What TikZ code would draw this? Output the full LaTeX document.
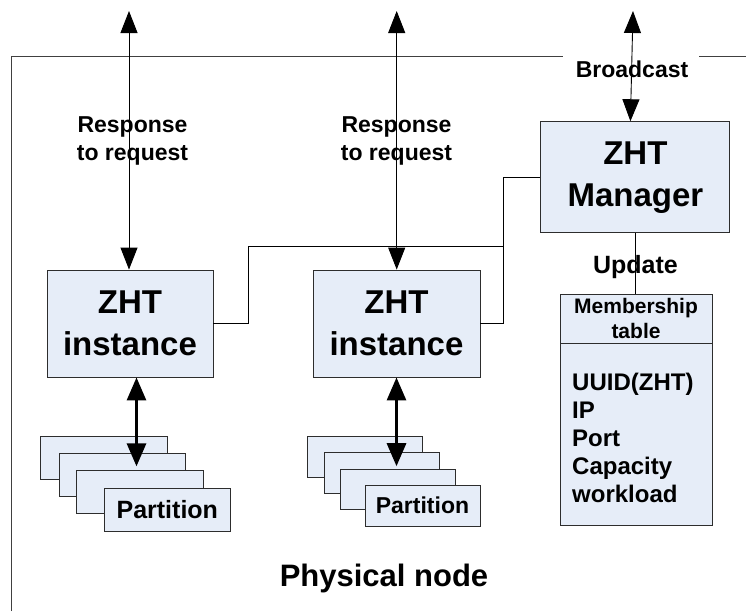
\documentclass[tikz,border=0pt]{standalone}
\usepackage{fontspec}
\setmainfont{Liberation Sans}
\usetikzlibrary{arrows.meta,calc}
\definecolor{boxfill}{RGB}{230,237,248}
\definecolor{edge}{RGB}{45,45,45}
\begin{document}
\begin{tikzpicture}[x=1pt,y=-1pt,
  box/.style={draw=edge,fill=boxfill,line width=0.9pt,inner sep=0pt,align=center,
    font=\bfseries\fontsize{33}{42}\selectfont},
  partbox/.style={draw=edge,fill=boxfill,line width=0.9pt,inner sep=0pt,
    minimum width=126.5pt,minimum height=43pt,font=\bfseries\fontsize{25}{30}\selectfont},
  partboxs/.style={draw=edge,fill=boxfill,line width=0.9pt,inner sep=0pt,
    minimum width=115pt,minimum height=40.5pt,font=\bfseries\fontsize{23}{28}\selectfont},
  lbl/.style={inner sep=0pt,align=center,font=\bfseries\fontsize{23}{28}\selectfont},
  item/.style={inner sep=0pt,anchor=base west,font=\bfseries\fontsize{24}{28}\selectfont},
  frameline/.style={draw=black!75,line width=0.9pt},
  conn/.style={draw=black,line width=0.9pt},
  thinarrow/.style={draw=black,line width=0.9pt,{Triangle[width=17pt,length=22pt]}-{Triangle[width=17pt,length=22pt]}},
  thickarrow/.style={draw=black,line width=3pt,{Triangle[width=19pt,length=23pt]}-{Triangle[width=19pt,length=23pt]}}
]
\useasboundingbox (0,0) rectangle (746,611);

% outer frame
\draw[frameline] (11.7,611) -- (11.7,56.7) -- (563,56.7);
\draw[frameline] (699,56.7) -- (746,56.7);

% main boxes
\node[box,minimum width=166pt,minimum height=107pt] (inst1) at (130,323.5) {ZHT\\instance};
\node[box,minimum width=167pt,minimum height=107pt] (inst2) at (396.5,323.5) {ZHT\\instance};
\node[box,minimum width=189pt,minimum height=111pt] (mgr) at (635.4,177.2) {ZHT\\Manager};

% membership table
\node[box,minimum width=152pt,minimum height=49.3pt,font=\bfseries\fontsize{21}{25}\selectfont] (mhead) at (636,318.6) {Membership\\table};
\node[box,minimum width=152pt,minimum height=182.4pt] (mbody) at (636,434.5) {};
\node[item] (i1) at (572,390) {UUID(ZHT)};
\node[item] (i2) at (572,418) {IP};
\node[item] (i3) at (572,446.5) {Port};
\node[item] (i4) at (572,474.5) {Capacity};
\node[item] (i5) at (572,502) {workload};

% partitions, instance 1
\node[partbox] (p11) at (104,458) {};
\node[partbox] (p12) at (122.2,475) {};
\node[partbox] (p13) at (140,492.3) {};
\node[partbox] (p14) at (167.3,509.7) {Partition};

% partitions, instance 2
\node[partboxs] (p21) at (365.2,456.7) {};
\node[partboxs] (p22) at (381.8,473) {};
\node[partboxs] (p23) at (397.8,489.2) {};
\node[partboxs] (p24) at (422.5,505.7) {Partition};

% labels
\node[lbl] (r1) at (132.5,141) {Response\\to request};
\node[lbl] (r2) at (396.5,141) {Response\\to request};
\node[lbl,font=\bfseries\fontsize{23}{28}\selectfont] (bc) at (632,69.5) {Broadcast};
\node[lbl,font=\bfseries\fontsize{25}{30}\selectfont] (upd) at (635.5,267) {Update};
\node[lbl,font=\bfseries\fontsize{31}{36}\selectfont] (phys) at (384,578) {Physical node};

% connectors
\coordinate (top1) at (129,11);
\coordinate (top2) at (396.7,11);
\coordinate (top3) at (633,11);
\coordinate (j1) at (248.3,246.7);
\coordinate (j2) at (503.3,246.7);

\draw[conn] (inst1.east) -| (j1) -- (j2) |- (mgr.west);
\draw[conn] (inst2.east) -| (j2);
\draw[conn] (mgr.south) -- (mgr.south |- mhead.north);

\draw[thinarrow] (top1) -- (top1 |- inst1.north);
\draw[thinarrow] (top2) -- (top2 |- inst2.north);
\draw[thinarrow] (top3) -- ([xshift=-5pt]mgr.north);

\draw[thickarrow,shorten >=4pt] ([xshift=6.5pt]inst1.south) -- ([xshift=6.5pt]inst1.south |- p13.north);
\draw[thickarrow,shorten >=2.3pt] (inst2.south) -- (inst2.south |- p23.north);
\end{tikzpicture}
\end{document}
